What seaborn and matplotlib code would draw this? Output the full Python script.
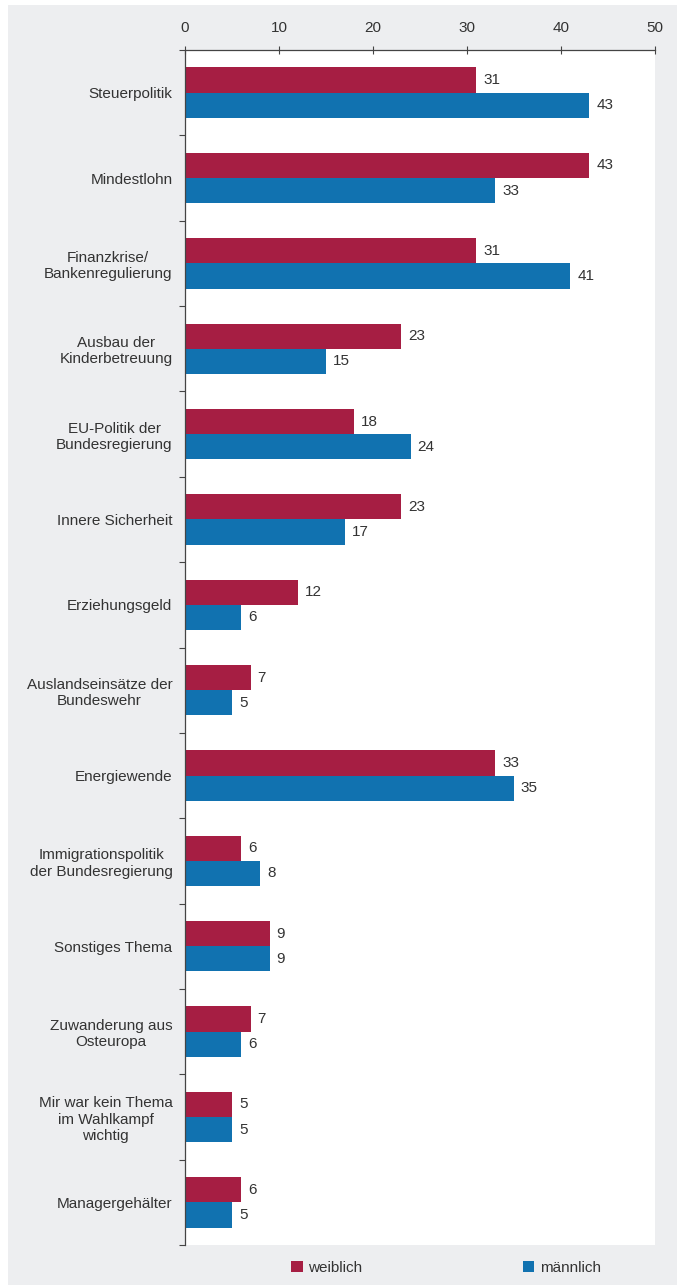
import matplotlib
matplotlib.use("Agg")
import matplotlib.pyplot as plt
import matplotlib.patches as mpatches
import numpy as np
import pandas as pd
import seaborn as sns

# Themen und Anteile (in Prozent) nach Geschlecht
themen = [
    "Steuerpolitik",
    "Mindestlohn",
    "Finanzkrise/\nBankenregulierung",
    "Ausbau der\nKinderbetreuung",
    "EU-Politik der\nBundesregierung",
    "Innere Sicherheit",
    "Erziehungsgeld",
    "Auslandseinsätze der\nBundeswehr",
    "Energiewende",
    "Immigrationspolitik\nder Bundesregierung",
    "Sonstiges Thema",
    "Zuwanderung aus\nOsteuropa",
    "Mir war kein Thema\nim Wahlkampf\nwichtig",
    "Managergehälter",
]
weiblich = [31, 43, 31, 23, 18, 23, 12, 7, 33, 6, 9, 7, 5, 6]
maennlich = [43, 33, 41, 15, 24, 17, 6, 5, 35, 8, 9, 6, 5, 5]
gruppen = ["weiblich", "männlich"]
x_ticks = [0, 10, 20, 30, 40, 50]

farben = {"weiblich": "#A61E43", "männlich": "#1172B0"}
textfarbe = "#333333"

df = pd.DataFrame({
    "Thema": themen * 2,
    "Anteil": weiblich + maennlich,
    "Geschlecht": [gruppen[0]] * len(themen) + [gruppen[1]] * len(themen),
})

sns.set_theme(style="white")
plt.rcParams["font.family"] = ["Liberation Sans", "DejaVu Sans"]
plt.rcParams["text.color"] = textfarbe

W, H = 677, 1285
fig = plt.figure(figsize=(W / 100, H / 100), dpi=100, facecolor="white")

# grauer Hintergrund hinter dem Diagramm
fig.patches.append(mpatches.Rectangle((8 / W, 0), 1 - 8 / W, 1 - 5 / H,
                                      transform=fig.transFigure,
                                      facecolor="#EDEEF0", edgecolor="none",
                                      zorder=-10))

left, right = 185 / W, 655 / W
top, bottom = 1 - 50 / H, 1 - 1245 / H
ax = fig.add_axes([left, bottom, right - left, top - bottom])
ax.set_facecolor("white")

sns.barplot(data=df, y="Thema", x="Anteil", hue="Geschlecht", order=themen,
            hue_order=gruppen, palette=farben, orient="h", width=0.59,
            saturation=1, linewidth=0, edgecolor="none", ax=ax, legend=True)

for cont in ax.containers:
    ax.bar_label(cont, labels=[f"{v:g}" for v in cont.datavalues],
                 padding=5, fontsize=11, color=textfarbe)

ax.set_xlim(0, 50)
ax.set_ylim(len(themen) - 0.5, -0.5)
ax.set_xticks(x_ticks)
ax.set_xticklabels([str(t) for t in x_ticks])
ax.xaxis.tick_top()
ax.tick_params(axis="x", which="major", top=True, bottom=False,
               direction="inout", length=6, width=0.8, color="#444444",
               labelsize=11, labelcolor=textfarbe, pad=8)
ax.set_yticks(range(len(themen)))
ax.set_yticklabels(themen, ha="right", multialignment="center")
ax.set_yticks(np.arange(-0.5, len(themen), 1.0), minor=True)
ax.tick_params(axis="y", which="major", left=False, labelsize=11,
               labelcolor=textfarbe, pad=3)
ax.tick_params(axis="y", which="minor", left=True, direction="out",
               length=4, width=0.8, color="#444444")
ax.set_xlabel("")
ax.set_ylabel("")
ax.grid(False)
for side in ["right", "bottom"]:
    ax.spines[side].set_visible(False)
for side in ["left", "top"]:
    ax.spines[side].set_color("#444444")
    ax.spines[side].set_linewidth(0.9)

handles, labels = ax.get_legend_handles_labels()
ax.get_legend().remove()
fig.legend(handles, labels, loc="center", bbox_to_anchor=(446 / W, 1 - 1268 / H),
           ncol=2, frameon=False, fontsize=11, handlelength=0.75,
           handleheight=0.75, handletextpad=0.35, columnspacing=10.5,
           labelcolor=textfarbe)

fig.savefig("out.png", dpi=100, facecolor=fig.get_facecolor())
